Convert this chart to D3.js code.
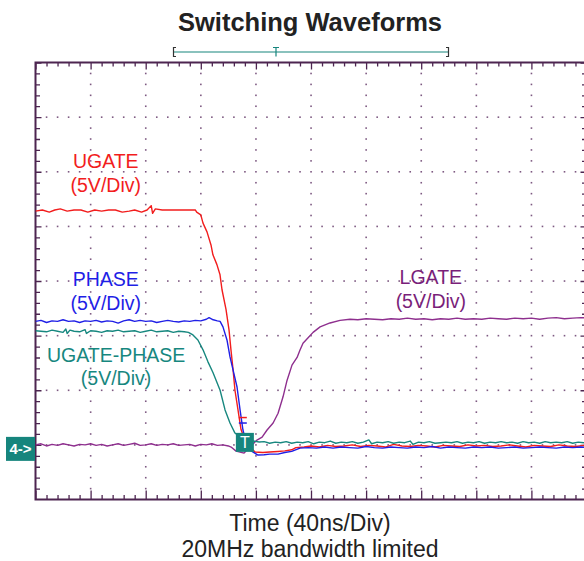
<!DOCTYPE html>
<html>
<head>
<meta charset="utf-8">
<script src="https://cdn.jsdelivr.net/npm/d3@7"></script>
<style>
  body { margin: 0; background: #fff; }
  text { font-family: "Liberation Sans", Arial, sans-serif; }
</style>
</head>
<body>
<div class="chart"></div>
<script>
'use strict';

// time in ns, voltage in V (5V/div, ground one division above the bottom)
const ugate = [[0,21.4],[5,21.5],[10,21.3],[14,21.5],[18,21.6],[23,21.4],[28,21.5],[33,21.5],[38,21.3],[43,21.5],[48,21.4],[53,21.5],[58,21.5],[63,21.3],[68,21.4],[72,21.5],[77,21.3],[81,21.5],[84,21.9],[85,21.2],[87,21.6],[92,21.5],[97,21.5],[102,21.5],[107,21.5],[112,21.5],[116,21.5],[117,21.3],[120,21.05],[121.6,20.3],[124.5,19.5],[127.4,18.3],[128.8,17.4],[131.7,16.5],[133.9,15.6],[135.4,14.2],[138.3,12.4],[140.5,10.5],[141.9,8.7],[143.4,6.9],[144.8,5.0],[147,3.2],[149.2,1.4],[152.1,0.4],[155.7,-0.2],[159.4,-0.65],[165,-0.7],[170,-0.65],[176,-0.6],[181,-0.55],[186,-0.45],[189,-0.25],[195,-0.2],[200,-0.1],[206,-0.2],[212,-0.05],[218,-0.15],[224,-0.1],[230,0.0],[236,-0.15],[242,-0.05],[248,-0.1],[254,-0.2],[260,0.05],[266,-0.1],[272,-0.15],[278,-0.05],[284,-0.1],[290,-0.2],[296,-0.05],[302,-0.1],[308,-0.15],[314,0.0],[320,-0.1],[326,-0.05],[332,-0.15],[338,-0.1],[344,0.0],[350,-0.1],[356,-0.2],[362,-0.05],[368,-0.1],[374,-0.15],[380,0.0],[386,-0.1],[392,-0.15],[398,-0.05],[402,-0.1]];

const phase = [[0,11.3],[4,11.4],[8,11.2],[12,11.35],[16,11.3],[20,11.45],[24,11.3],[28,11.35],[32,11.2],[36,11.35],[40,11.3],[44,11.4],[48,11.25],[52,11.35],[56,11.3],[60,11.15],[64,11.35],[68,11.45],[72,11.3],[76,11.4],[80,11.3],[84,11.35],[88,11.2],[92,11.3],[96,11.4],[100,11.3],[104,11.25],[108,11.35],[112,11.3],[116,11.4],[120,11.35],[124,11.5],[126,11.65],[129,11.45],[132,11.35],[134,11.3],[136.1,10.8],[139,9.6],[141.2,8.05],[143.4,6.86],[146.3,5.3],[148.5,3.2],[150.6,1.36],[152.8,0.26],[155.7,-0.48],[161.5,-0.93],[166,-0.9],[170,-0.85],[176,-0.85],[181,-0.7],[186,-0.6],[192,-0.3],[198,-0.25],[204,-0.3],[210,-0.2],[216,-0.3],[222,-0.2],[228,-0.25],[234,-0.3],[240,-0.15],[246,-0.25],[252,-0.3],[258,-0.2],[264,-0.25],[270,-0.3],[276,-0.2],[282,-0.25],[288,-0.15],[294,-0.3],[300,-0.2],[306,-0.25],[312,-0.3],[318,-0.2],[324,-0.25],[330,-0.2],[336,-0.3],[342,-0.25],[348,-0.2],[354,-0.3],[360,-0.25],[366,-0.2],[372,-0.25],[378,-0.3],[384,-0.2],[390,-0.25],[396,-0.2],[402,-0.25]];

const ugatePhase = [[0,10.45],[4,10.4],[8,10.35],[12,10.5],[16,10.4],[20,10.3],[22,10.6],[23,10.2],[25,10.5],[28,10.4],[32,10.35],[36,10.55],[37,10.2],[40,10.45],[44,10.4],[48,10.3],[52,10.45],[56,10.4],[60,10.5],[64,10.35],[68,10.4],[72,10.45],[76,10.3],[80,10.4],[84,10.5],[88,10.35],[92,10.4],[96,10.45],[100,10.3],[104,10.4],[108,10.35],[111,10.3],[114.3,10.06],[117.9,9.6],[121.6,8.7],[125.2,7.6],[128.9,6.6],[134,5.0],[137.6,3.2],[141.2,2.0],[144.8,1.08],[148.5,0.7],[152,0.5],[156,0.4],[162.4,0.26],[166,0.3],[170,0.15],[174,0.25],[178,0.2],[182,0.3],[186,0.15],[190,0.25],[194,0.2],[198,0.3],[202,0.1],[206,0.25],[210,0.2],[214,0.35],[218,0.15],[222,0.25],[226,0.2],[230,0.3],[234,0.15],[238,0.25],[242,0.45],[244,0.1],[248,0.25],[252,0.2],[256,0.3],[260,0.15],[264,0.25],[268,0.2],[272,0.35],[274,0.05],[278,0.25],[282,0.2],[286,0.3],[290,0.15],[294,0.2],[298,0.25],[302,0.2],[306,0.3],[310,0.15],[314,0.25],[318,0.2],[322,0.3],[326,0.15],[330,0.25],[334,0.2],[338,0.3],[342,0.2],[346,0.25],[350,0.15],[354,0.3],[358,0.2],[362,0.25],[366,0.15],[370,0.3],[374,0.2],[378,0.25],[382,0.2],[386,0.3],[390,0.15],[394,0.25],[398,0.2],[402,0.25]];

const lgate = [[0,0.0],[4,0.1],[8,-0.1],[12,0.05],[16,-0.05],[20,0.1],[24,0.0],[28,-0.1],[32,0.05],[36,0.0],[40,0.1],[44,-0.05],[48,0.05],[52,-0.1],[56,0.0],[60,0.1],[64,-0.05],[68,0.05],[72,0.15],[76,-0.05],[80,0.0],[84,0.1],[88,-0.05],[92,0.05],[96,0.0],[100,0.1],[104,-0.05],[108,0.0],[112,0.05],[116,-0.1],[120,0.05],[124,0.0],[128,0.1],[132,-0.05],[136,0.0],[140,-0.1],[142,-0.2],[145.6,-0.57],[151.4,-0.75],[155.7,-0.2],[160.8,0.44],[164.5,0.71],[168.1,1.36],[172.5,2.0],[176.1,2.9],[179.7,4.4],[182.6,5.9],[186.2,7.3],[189.9,8.0],[192.1,8.7],[194.2,9.3],[197.9,9.8],[201.5,10.3],[206.6,10.8],[213.8,11.16],[221.1,11.4],[228.3,11.5],[234,11.45],[240,11.55],[246,11.5],[252,11.45],[258,11.55],[264,11.5],[270,11.6],[276,11.5],[282,11.55],[288,11.45],[294,11.55],[300,11.5],[306,11.6],[312,11.5],[318,11.55],[324,11.5],[330,11.6],[336,11.55],[342,11.5],[348,11.6],[354,11.55],[360,11.6],[366,11.5],[372,11.6],[378,11.65],[384,11.55],[390,11.6],[396,11.65],[402,11.6]];

const seriesNames = ['UGATE', 'PHASE', 'UGATE-PHASE', 'LGATE'];
const seriesColors = ['#f21d1d', '#1f1fe6', '#17877f', '#8e2f8e'];
const labelColors = ['#f21d1d', '#1f1fe6', '#17877f', '#7a1f7a'];
const seriesData = [ugate, phase, ugatePhase, lgate];
// label anchor in data units [ns, V]
const labelPos = [[51, 25.3], [51, 14.5], [58.5, 7.6], [287, 14.7]];

const timeDomain = [0, 400];   // 40ns/div, 10 divisions
const voltDomain = [-5, 35];   // 5V/div, 8 divisions
const triggerTime = 152;
const cursorTime = 150.5;
const cursorVolts = [2.5, 2.0];

const W = 584, H = 561;
const plot = {left: 35.5, right: 586.5, top: 62.5, bottom: 499.5};

const x = d3.scaleLinear().domain(timeDomain).range([plot.left, plot.right]);
const y = d3.scaleLinear().domain(voltDomain).range([plot.bottom, plot.top]);

const gridColor = '#7e5a82';
const frameColor = '#4d2550';
const teal = '#16857d';

const svg = d3.select('.chart').append('svg')
  .attr('width', W)
  .attr('height', H);

svg.append('defs').append('clipPath')
  .attr('id', 'clip')
  .append('rect')
  .attr('x', plot.left)
  .attr('y', plot.top)
  .attr('width', plot.right - plot.left)
  .attr('height', plot.bottom - plot.top);

// title
svg.append('text')
  .attr('x', 310)
  .attr('y', 31)
  .attr('text-anchor', 'middle')
  .attr('font-size', 25.5)
  .attr('font-weight', 'bold')
  .attr('fill', '#222')
  .text('Switching Waveforms');

// record position bracket
const br = svg.append('g');
br.append('line').attr('x1', 174).attr('x2', 448).attr('y1', 52).attr('y2', 52)
  .attr('stroke', teal).attr('stroke-width', 1.2);
br.append('path').attr('d', 'M176,47.5 H173.5 V56.5 H176').attr('fill', 'none')
  .attr('stroke', '#333').attr('stroke-width', 1.2);
br.append('path').attr('d', 'M446,47.5 H448.5 V56.5 H446').attr('fill', 'none')
  .attr('stroke', '#333').attr('stroke-width', 1.2);
br.append('path').attr('d', 'M273,47.5 H279 M276,47.5 V56.5').attr('fill', 'none')
  .attr('stroke', teal).attr('stroke-width', 1.2);

// dotted graticule
const xMajor = d3.range(timeDomain[0], timeDomain[1] + 1, 40);
const yMajor = d3.range(voltDomain[0], voltDomain[1] + 1, 5);
const xMinor = d3.range(timeDomain[0], timeDomain[1] + 0.1, 8);
const yMinor = d3.range(voltDomain[0], voltDomain[1] + 0.1, 1);

const dots = [];
yMajor.slice(1, -1).forEach(v => {
  xMinor.slice(1).forEach(t => dots.push([t, v]));
});
xMajor.slice(1, -1).forEach(t => {
  yMinor.slice(1, -1).forEach(v => { if (v % 5 !== 0) dots.push([t, v]); });
});

const gridG = svg.append('g').attr('clip-path', 'url(#clip)');
gridG.selectAll('rect.dot')
  .data(dots)
  .join('rect')
  .attr('class', 'dot')
  .attr('x', d => x(d[0]) - 0.75)
  .attr('y', d => y(d[1]) - 0.75)
  .attr('width', 1.6)
  .attr('height', 1.6)
  .attr('fill', gridColor);

// frame ticks (the axis generators give the inner tick marks)
const tickG = svg.append('g').attr('clip-path', 'url(#clip)');
function frameTicks(axis, transform, values, size) {
  const g = tickG.append('g')
    .attr('transform', transform)
    .call(axis.tickValues(values).tickSize(size).tickFormat(''));
  g.select('.domain').remove();
  g.selectAll('line').attr('stroke', frameColor).attr('stroke-width', 1.3);
}
const minorX = xMinor.filter(t => t % 40 !== 0);
const minorY = yMinor.filter(v => v % 5 !== 0);
frameTicks(d3.axisTop(x), `translate(0,${plot.top})`, minorX, -4);
frameTicks(d3.axisTop(x), `translate(0,${plot.top})`, xMajor, -7);
frameTicks(d3.axisBottom(x), `translate(0,${plot.bottom})`, minorX, -4.5);
frameTicks(d3.axisBottom(x), `translate(0,${plot.bottom})`, xMajor, -9);
frameTicks(d3.axisLeft(y), `translate(${plot.left},0)`, minorY, -4.5);
frameTicks(d3.axisLeft(y), `translate(${plot.left},0)`, yMajor, -6);
frameTicks(d3.axisRight(y), `translate(${plot.right},0)`, minorY, -4.5);
frameTicks(d3.axisRight(y), `translate(${plot.right},0)`, yMajor, -6);

svg.append('rect')
  .attr('x', plot.left)
  .attr('y', plot.top)
  .attr('width', plot.right - plot.left)
  .attr('height', plot.bottom - plot.top)
  .attr('fill', 'none')
  .attr('stroke', frameColor)
  .attr('stroke-width', 2);

// traces
const line = d3.line()
  .x(d => x(d[0]))
  .y(d => y(d[1]));

const traceG = svg.append('g').attr('clip-path', 'url(#clip)');
[3, 0, 1, 2].forEach(i => {
  traceG.append('path')
    .datum(seriesData[i])
    .attr('d', line)
    .attr('fill', 'none')
    .attr('stroke', seriesColors[i])
    .attr('stroke-width', 1.4)
    .attr('stroke-linejoin', 'round');
});

// cursor marks
const curG = svg.append('g');
cursorVolts.forEach((v, i) => {
  curG.append('line')
    .attr('x1', x(cursorTime) - 4).attr('x2', x(cursorTime) + 4)
    .attr('y1', y(v)).attr('y2', y(v))
    .attr('stroke', seriesColors[i]).attr('stroke-width', 1.5);
});

// trigger marker
const trig = svg.append('g')
  .attr('transform', `translate(${x(triggerTime)},${y(0)})`);
trig.append('rect')
  .attr('x', -9).attr('y', -12).attr('width', 18).attr('height', 19)
  .attr('fill', teal);
trig.append('text')
  .attr('x', 0).attr('y', 3.5)
  .attr('text-anchor', 'middle')
  .attr('font-size', 16)
  .attr('fill', '#fff')
  .text('T');

// channel ground marker
const gnd = svg.append('g')
  .attr('transform', `translate(6,${y(0) - 8})`);
gnd.append('rect')
  .attr('width', 29).attr('height', 24)
  .attr('fill', teal);
gnd.append('text')
  .attr('x', 14.5).attr('y', 17)
  .attr('text-anchor', 'middle')
  .attr('font-size', 15)
  .attr('font-weight', 'bold')
  .attr('fill', '#fff')
  .text('4->');

// series labels
const labG = svg.append('g');
seriesNames.forEach((name, i) => {
  const t = labG.append('text')
    .attr('x', x(labelPos[i][0]))
    .attr('y', y(labelPos[i][1]))
    .attr('text-anchor', 'middle')
    .attr('font-size', 19.5)
    .attr('fill', labelColors[i]);
  t.append('tspan').attr('x', x(labelPos[i][0])).text(name);
  t.append('tspan').attr('x', x(labelPos[i][0])).attr('dy', 23.5).text('(5V/Div)');
});

// bottom captions
svg.append('text')
  .attr('x', 310).attr('y', 531)
  .attr('text-anchor', 'middle')
  .attr('font-size', 23)
  .attr('fill', '#222')
  .text('Time (40ns/Div)');
svg.append('text')
  .attr('x', 310).attr('y', 557)
  .attr('text-anchor', 'middle')
  .attr('font-size', 23)
  .attr('fill', '#222')
  .text('20MHz bandwidth limited');
</script>
</body>
</html>
